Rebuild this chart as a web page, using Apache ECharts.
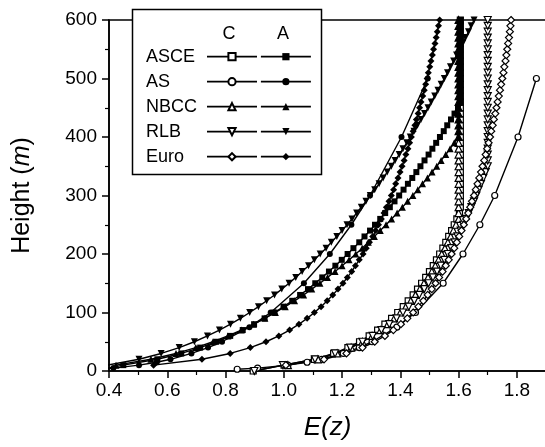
<!DOCTYPE html>
<html><head><meta charset="utf-8">
<script src="https://cdn.jsdelivr.net/npm/echarts@6/dist/echarts.min.js"></script>
<style>html,body{margin:0;padding:0;background:#fff}#c{width:545px;height:447px}</style>
</head><body><div id="c"></div>
<script>
// Heights (m) for the densely sampled profiles
const heights = [0,10,20,30,40,50,60,70,80,90,100,110,120,130,140,150,160,170,180,190,200,
  210,220,230,240,250,260,270,280,290,300,310,320,330,340,350,360,370,380,390,400,
  410,420,430,440,450,460,470,480,490,500,510,520,530,540,550,560,570,580,590,600];
// Heights (m) of the AS table rows
const asHeights = [3,5,10,15,20,30,40,50,75,100,150,200,250,300,400,500];

// E(z) values, category C (open markers)
const asceC = [0.895,1.001,1.105,1.171,1.220,1.260,1.293,1.322,1.347,1.370,1.391,
  1.410,1.427,1.444,1.459,1.473,1.487,1.500,1.513,1.524,1.535,
  1.546,1.556,1.566,1.576,1.585,1.594,1.603,1.606,1.606,1.606,
  1.606,1.606,1.606,1.606,1.606,1.606,1.606,1.606,1.606,1.606,
  1.606,1.606,1.606,1.606,1.606,1.606,1.606,1.606,1.606,1.606,
  1.606,1.606,1.606,1.606,1.606,1.606,1.606,1.606,1.606,1.606];
const asC = [0.840,0.910,1.014,1.080,1.130,1.204,1.259,1.303,1.388,1.452,1.547,1.615,1.673,1.724,1.804,1.867];
const nbccC = [null,1.014,1.117,1.183,1.231,1.270,1.303,1.332,1.357,1.379,1.400,
  1.419,1.436,1.452,1.467,1.481,1.495,1.508,1.520,1.531,1.542,
  1.553,1.563,1.573,1.582,1.591,1.600,1.600,1.600,1.600,1.600,
  1.600,1.600,1.600,1.600,1.600,1.600,1.600,1.600,1.600,1.600,
  1.600,1.600,1.600,1.600,1.600,1.600,1.600,1.600,1.600,1.600,
  1.600,1.600,1.600,1.600,1.600,1.600,1.600,1.600,1.600,1.600];
const rlbC = [0.899,0.997,1.107,1.176,1.228,1.270,1.305,1.335,1.362,1.387,1.409,
  1.429,1.448,1.465,1.482,1.497,1.512,1.526,1.539,1.551,1.563,
  1.575,1.586,1.596,1.607,1.616,1.626,1.635,1.644,1.653,1.661,
  1.669,1.677,1.685,1.693,1.700,1.700,1.700,1.700,1.700,1.700,
  1.700,1.700,1.700,1.700,1.700,1.700,1.700,1.700,1.700,1.700,
  1.700,1.700,1.700,1.700,1.700,1.700,1.700,1.700,1.700,1.700];
const euroC = [null,1.007,1.138,1.215,1.270,1.312,1.347,1.376,1.402,1.424,1.444,
  1.462,1.479,1.494,1.508,1.521,1.533,1.545,1.556,1.566,1.576,
  1.585,1.594,1.602,1.610,1.618,1.626,1.633,1.640,1.646,1.653,
  1.659,1.665,1.671,1.677,1.682,1.688,1.693,1.698,1.703,1.708,
  1.712,1.717,1.721,1.726,1.730,1.734,1.738,1.742,1.746,1.750,
  1.754,1.757,1.761,1.764,1.767,1.770,1.773,1.776,1.778,1.780];

// E(z) values, category A (filled markers)
const asceA = [0.346,0.449,0.566,0.648,0.713,0.768,0.816,0.859,0.898,0.934,0.968,
  0.999,1.029,1.056,1.083,1.108,1.132,1.155,1.177,1.199,1.219,
  1.239,1.259,1.277,1.296,1.313,1.331,1.348,1.364,1.380,1.396,
  1.411,1.426,1.441,1.455,1.469,1.483,1.497,1.510,1.523,1.536,
  1.549,1.561,1.574,1.586,1.598,1.606,1.606,1.606,1.606,1.606,
  1.606,1.606,1.606,1.606,1.606,1.606,1.606,1.606,1.606,1.606];
const asA = [0.360,0.415,0.503,0.564,0.611,0.683,0.740,0.788,0.882,0.955,1.069,1.158,1.232,1.296,1.404,1.494];
const nbccA = [null,0.424,0.544,0.630,0.698,0.757,0.808,0.854,0.896,0.935,0.971,
  1.005,1.037,1.068,1.096,1.124,1.150,1.176,1.200,1.224,1.247,
  1.269,1.290,1.311,1.331,1.351,1.370,1.389,1.407,1.425,1.443,
  1.460,1.476,1.493,1.509,1.525,1.540,1.556,1.571,1.585,1.600,
  1.600,1.600,1.600,1.600,1.600,1.600,1.600,1.600,1.600,1.600,
  1.600,1.600,1.600,1.600,1.600,1.600,1.600,1.600,1.600,1.600];
const rlbA = [null,0.394,0.503,0.579,0.641,0.693,0.738,0.779,0.817,0.851,0.883,
  0.913,0.941,0.968,0.993,1.018,1.041,1.063,1.085,1.105,1.125,
  1.145,1.163,1.182,1.200,1.217,1.234,1.250,1.266,1.282,1.297,
  1.312,1.327,1.341,1.355,1.369,1.382,1.396,1.409,1.422,1.434,
  1.447,1.459,1.471,1.483,1.495,1.506,1.518,1.529,1.540,1.551,
  1.562,1.572,1.583,1.593,1.603,1.614,1.624,1.634,1.643,1.653];
const euroA = [null,0.553,0.719,0.816,0.885,0.939,0.983,1.020,1.052,1.080,1.105,
  1.128,1.149,1.168,1.186,1.203,1.218,1.233,1.246,1.259,1.272,
  1.283,1.294,1.305,1.315,1.325,1.335,1.344,1.352,1.361,1.369,
  1.377,1.384,1.392,1.399,1.406,1.413,1.419,1.426,1.432,1.438,
  1.444,1.450,1.455,1.461,1.466,1.471,1.477,1.482,1.487,1.492,
  1.496,1.501,1.505,1.510,1.514,1.519,1.523,1.527,1.531,1.535];

const codes = ['ASCE','AS','NBCC','RLB','Euro'];
const xTicks = { min: 0.4, max: 1.9, step: 0.2 };
const yTicks = { min: 0, max: 600, step: 100 };

const FONT = '"Liberation Sans", Arial, Helvetica, sans-serif';
const cVals = [asceC, asC, nbccC, rlbC, euroC];
const aVals = [asceA, asA, nbccA, rlbA, euroA];
const hSets = [heights, asHeights, heights, heights, heights];
const symbols = ['rect','circle','triangle','triangle','diamond'];
const rotates = [0,0,0,180,0];
const sizes = [6,6,7,7,7];

function pts(vals, hs){ const out=[]; vals.forEach((v,i)=>{ if(v!=null) out.push([v, hs[i]]); }); return out; }

const series = [];
codes.forEach((c,k)=>{
  series.push({ name: c+' C', type:'line', data: pts(cVals[k], hSets[k]),
    symbol: symbols[k], symbolRotate: rotates[k], symbolSize: sizes[k], showSymbol:true,
    lineStyle:{color:'#000', width:1.4}, itemStyle:{color:'#fff', borderColor:'#000', borderWidth:1.2},
    z: 2, silent:true });
});
codes.forEach((c,k)=>{
  series.push({ name: c+' A', type:'line', data: pts(aVals[k], hSets[k]),
    symbol: symbols[k], symbolRotate: rotates[k], symbolSize: sizes[k], showSymbol:true,
    lineStyle:{color:'#000', width:1.4}, itemStyle:{color:'#000', borderColor:'#000', borderWidth:0},
    z: 3, silent:true });
});

const richText = { n: { width:56, height:20, lineHeight:20, fontSize:18, fontFamily:FONT, color:'#000', align:'left' } };

const chart = echarts.init(document.getElementById('c'), null, {renderer:'canvas'});
chart.setOption({
  animation:false,
  backgroundColor:'#fff',
  grid:{ left:109, top:20, width:437, height:351, show:true, borderColor:'#000', borderWidth:1.5, backgroundColor:'transparent', containLabel:false, outerBoundsMode:'none' },
  xAxis:{ type:'value', min:xTicks.min, max:xTicks.max, interval:xTicks.step,
    axisLine:{show:true, onZero:false, lineStyle:{color:'#000', width:1.6}},
    axisTick:{show:true, inside:false, length:7, lineStyle:{color:'#000', width:1.5}},
    minorTick:{show:true, splitNumber:2, length:4, lineStyle:{color:'#000', width:1.2}},
    splitLine:{show:false},
    axisLabel:{ fontSize:19, fontFamily:FONT, color:'#000', margin:10, showMaxLabel:false,
      formatter: v => v.toFixed(1) },
    name:'E(z)', nameLocation:'middle', nameGap:44,
    nameTextStyle:{ fontSize:26, fontStyle:'italic', fontFamily:FONT, color:'#000' } },
  yAxis:{ type:'value', min:yTicks.min, max:yTicks.max, interval:yTicks.step,
    axisLine:{show:true, onZero:false, lineStyle:{color:'#000', width:1.6}},
    axisTick:{show:true, inside:false, length:7, lineStyle:{color:'#000', width:1.5}},
    minorTick:{show:true, splitNumber:2, length:4, lineStyle:{color:'#000', width:1.2}},
    splitLine:{show:false},
    axisLabel:{ fontSize:19, fontFamily:FONT, color:'#000', margin:12 },
    name:'{r|Height (}{i|m}{r|)}', nameLocation:'middle', nameGap:74, nameRotate:90,
    nameTextStyle:{ fontSize:25, fontFamily:FONT, color:'#000',
      rich:{ r:{fontSize:25, fontFamily:FONT, color:'#000'}, i:{fontSize:25, fontFamily:FONT, fontStyle:'italic', color:'#000'} } } },
  legend:[
    { orient:'vertical', left:146, top:46.7, padding:0, itemGap:5, itemWidth:50, itemHeight:9,
      align:'right', selectedMode:false, z:6, data: codes.map(c=>c+' C'),
      formatter: n => '{n|'+n.split(' ')[0]+'}', textStyle:{ rich: richText },
      lineStyle:{width:1.8} },
    { orient:'vertical', left:260, top:46.7, padding:0, itemGap:5, itemWidth:50, itemHeight:9,
      align:'left', selectedMode:false, z:6, data: codes.map(c=>c+' A'),
      formatter: () => '{n| }', textStyle:{ rich: richText },
      lineStyle:{width:1.8} }
  ],
  graphic:[
    { type:'rect', z:4, shape:{x:132.5, y:9.5, width:189, height:165}, style:{fill:'#fff', stroke:'#000', lineWidth:1.5} },
    { type:'text', z:7, x:229, y:34, style:{text:'C', font:'18px '+FONT, fill:'#000', textAlign:'center', textVerticalAlign:'middle'} },
    { type:'text', z:7, x:283, y:34, style:{text:'A', font:'18px '+FONT, fill:'#000', textAlign:'center', textVerticalAlign:'middle'} }
  ],
  series: series
});
</script></body></html>
